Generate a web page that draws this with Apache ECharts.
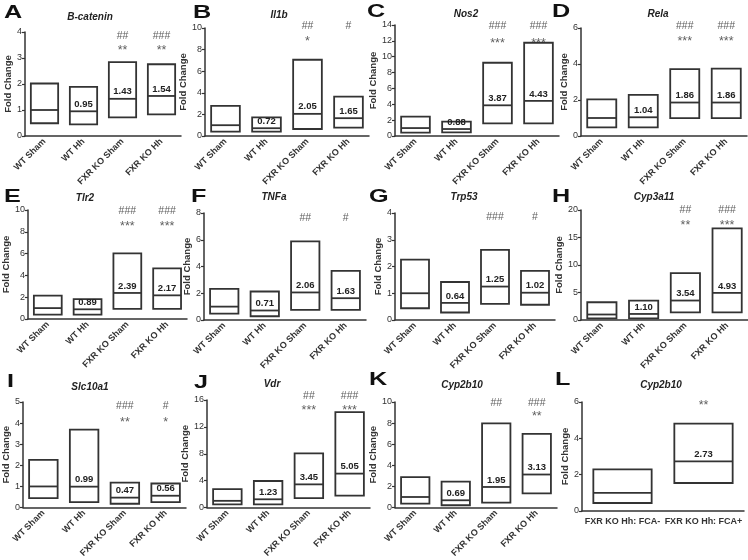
<!DOCTYPE html>
<html><head><meta charset="utf-8">
<script src="https://cdn.jsdelivr.net/npm/echarts@6/dist/echarts.min.js"></script>
<style>html,body{margin:0;padding:0;background:#fff}#c{width:748px;height:560px}</style>
</head><body><div id="c"></div><script>
// ---- data ----
const groups = ['WT Sham', 'WT Hh', 'FXR KO Sham', 'FXR KO Hh'];
const groupsL = ['FXR KO Hh: FCA-', 'FXR KO Hh: FCA+'];
const genes = ['B-catenin', 'Il1b', 'Nos2', 'Rela', 'Tlr2', 'TNFa', 'Trp53', 'Cyp3a11', 'Slc10a1', 'Vdr', 'Cyp2b10', 'Cyp2b10'];
const letters = ['A', 'B', 'C', 'D', 'E', 'F', 'G', 'H', 'I', 'J', 'K', 'L'];
const yMax = [4, 10, 14, 6, 10, 8, 4, 20, 5, 16, 10, 6];
const yStep = [1, 2, 2, 2, 2, 2, 1, 5, 1, 4, 2, 2];

const lowA = [0.49, 0.45, 0.72, 0.83], medA = [1.00, 0.95, 1.43, 1.54], highA = [2.02, 1.89, 2.84, 2.76];
const lowB = [0.40, 0.40, 0.65, 0.77], medB = [1.00, 0.72, 2.05, 1.65], highB = [2.79, 1.73, 7.06, 3.65];
const lowC = [0.42, 0.46, 1.60, 1.60], medC = [1.00, 0.88, 3.87, 4.43], highC = [2.44, 1.81, 9.24, 11.76];
const lowD = [0.48, 0.48, 0.99, 0.99], medD = [1.00, 1.04, 1.86, 1.86], highD = [2.04, 2.29, 3.72, 3.74];
const lowE = [0.40, 0.40, 0.92, 0.92], medE = [1.00, 0.89, 2.39, 2.17], highE = [2.14, 1.83, 6.02, 4.65];
const lowF = [0.48, 0.28, 0.75, 0.75], medF = [1.00, 0.71, 2.06, 1.63], highF = [2.33, 2.13, 5.88, 3.68];
const lowG = [0.44, 0.28, 0.60, 0.57], medG = [1.00, 0.64, 1.25, 1.02], highG = [2.26, 1.42, 2.62, 1.84];
const lowH = [0.30, 0.30, 1.40, 1.40], medH = [1.00, 1.10, 3.54, 4.93], highH = [3.23, 3.54, 8.54, 16.65];
const lowI = [0.45, 0.26, 0.18, 0.26], medI = [1.00, 0.99, 0.47, 0.56], highI = [2.26, 3.69, 1.18, 1.14];
const lowJ = [0.48, 0.48, 1.40, 1.78], medJ = [1.00, 1.23, 3.45, 5.05], highJ = [2.75, 3.95, 8.05, 14.20];
const lowK = [0.37, 0.22, 0.46, 1.35], medK = [1.00, 0.69, 1.95, 3.13], highK = [2.89, 2.46, 7.97, 6.98];
const lowL = [0.44, 1.54], medL = [1.00, 2.73], highL = [2.29, 4.81];

const hashA = ['', '', '##', '###'], starA = ['', '', '**', '**'];
const hashB = ['', '', '##', '#'], starB = ['', '', '*', ''];
const hashC = ['', '', '###', '###'], starC = ['', '', '***', '***'];
const hashD = ['', '', '###', '###'], starD = ['', '', '***', '***'];
const hashE = ['', '', '###', '###'], starE = ['', '', '***', '***'];
const hashF = ['', '', '##', '#'], starF = ['', '', '', ''];
const hashG = ['', '', '###', '#'], starG = ['', '', '', ''];
const hashH = ['', '', '##', '###'], starH = ['', '', '**', '***'];
const hashI = ['', '', '###', '#'], starI = ['', '', '**', '*'];
const hashJ = ['', '', '##', '###'], starJ = ['', '', '***', '***'];
const hashK = ['', '', '##', '###'], starK = ['', '', '', '**'];
const hashL = ['', ''], starL = ['', '**'];

// ---- layout (pixels) ----
const FONT = '"Liberation Sans", Arial, Helvetica, sans-serif';
const layout = [
  { l: 25, r: 181, t: 32, b: 136, letter: [4, 4], title: [90, 17], ann: [3.86, 3.30] },
  { l: 205, r: 369, t: 28, b: 136, letter: [193, 4], title: [279, 15], ann: [10.15, 8.7] },
  { l: 395, r: 559, t: 25, b: 136, letter: [367, 3], title: [466, 14], ann: [13.9, 11.7] },
  { l: 581, r: 747, t: 28, b: 136, letter: [552, 3], title: [658, 14], ann: [6.1, 5.22] },
  { l: 25, r: 187, t: 210, b: 319, letter: [4, 188], title: [85, 198], ann: [9.94, 8.47] },
  { l: 204, r: 366, t: 213, b: 320, letter: [191, 188], title: [274, 197], ann: [7.65, 0] },
  { l: 395, r: 555, t: 213, b: 320, letter: [369, 188], title: [464, 197], ann: [3.85, 0] },
  { l: 581, r: 748, t: 210, b: 320, letter: [552, 188], title: [654, 197], ann: [19.9, 17.1] },
  { l: 22, r: 186, t: 402, b: 511, letter: [7, 373], title: [90, 387], ann: [4.8, 4.05] },
  { l: 207, r: 370, t: 400, b: 511, letter: [194, 374], title: [272, 384], ann: [16.6, 14.45] },
  { l: 395, r: 557, t: 402, b: 511, letter: [369, 371], title: [462, 385], ann: [9.94, 8.6] },
  { l: 582, r: 744, t: 402, b: 511, letter: [555, 371], title: [661, 385], ann: [0, 5.78] }
];

const lows = [lowA, lowB, lowC, lowD, lowE, lowF, lowG, lowH, lowI, lowJ, lowK, lowL];
const meds = [medA, medB, medC, medD, medE, medF, medG, medH, medI, medJ, medK, medL];
const highs = [highA, highB, highC, highD, highE, highF, highG, highH, highI, highJ, highK, highL];
const hashes = [hashA, hashB, hashC, hashD, hashE, hashF, hashG, hashH, hashI, hashJ, hashK, hashL];
const stars = [starA, starB, starC, starD, starE, starF, starG, starH, starI, starJ, starK, starL];

const INK = '#333';
const grid = [], xAxis = [], yAxis = [], series = [], graphic = [];

layout.forEach((L, i) => {
  const cats = i === 11 ? groupsL : groups;
  grid.push({ left: L.l, top: L.t, width: L.r - L.l, height: L.b - L.t, containLabel: false });
  xAxis.push({
    type: 'category', gridIndex: i, data: cats,
    axisLine: { lineStyle: { color: INK, width: 1.5 } },
    axisTick: { show: false },
    axisLabel: {
      interval: 0, rotate: i === 11 ? 0 : 45, fontSize: 9, fontWeight: 'bold',
      color: INK, margin: i === 11 ? 6 : 4, fontFamily: FONT
    }
  });
  yAxis.push({
    type: 'value', gridIndex: i, min: 0, max: yMax[i], interval: yStep[i],
    splitLine: { show: false },
    axisLine: { show: true, lineStyle: { color: INK, width: 1.5 } },
    axisTick: { show: true, length: 3, lineStyle: { color: INK, width: 1.2 } },
    axisLabel: { fontSize: 9, color: INK, margin: 3, fontFamily: FONT },
    name: 'Fold Change', nameLocation: 'middle', nameGap: 12,
    nameTextStyle: { fontSize: 9.5, fontWeight: 'bold', color: INK, fontFamily: FONT }
  });
  const low = lows[i], med = meds[i], high = highs[i];
  const frac = i === 11 ? 0.72 : 0.70;
  series.push({
    type: 'custom', xAxisIndex: i, yAxisIndex: i, silent: true, clip: false,
    data: low.map((v, j) => [j, v, med[j], high[j]]),
    encode: { x: 0, y: [1, 2, 3] },
    renderItem: (params, api) => {
      const j = api.value(0);
      const pLo = api.coord([j, api.value(1)]);
      const pMd = api.coord([j, api.value(2)]);
      const pHi = api.coord([j, api.value(3)]);
      const bw = api.size([1, 0])[0] * frac;
      const x0 = pLo[0] - bw / 2;
      const txt = j === 0 ? '' : med[j].toFixed(2);
      return {
        type: 'group', children: [
          { type: 'rect', shape: { x: x0, y: pHi[1], width: bw, height: pLo[1] - pHi[1] },
            style: { fill: '#fff', stroke: INK, lineWidth: 1.8 } },
          { type: 'line', shape: { x1: x0, y1: pMd[1], x2: x0 + bw, y2: pMd[1] },
            style: { stroke: INK, lineWidth: 1.8 } },
          { type: 'text', x: pMd[0], y: pMd[1] - 2,
            style: { text: txt, textAlign: 'center', textVerticalAlign: 'bottom',
                     font: 'bold 9.5px ' + FONT, fill: '#222' } }
        ]
      };
    }
  });
  const annData = [];
  hashes[i].forEach((h, j) => { if (h) annData.push({ value: [j, L.ann[0]], label: { formatter: h, fontSize: 10.5 } }); });
  stars[i].forEach((s, j) => { if (s) annData.push({ value: [j, L.ann[1]], label: { formatter: s, fontSize: 12.5 } }); });
  series.push({
    type: 'scatter', xAxisIndex: i, yAxisIndex: i, symbolSize: 1, silent: true, clip: false,
    itemStyle: { color: 'rgba(0,0,0,0)' }, data: annData,
    label: { show: true, position: 'inside', fontSize: 10.5, color: '#333', fontFamily: FONT }
  });
  graphic.push({
    type: 'text', x: L.letter[0], y: L.letter[1], scaleX: 1.4,
    style: { text: letters[i], font: 'bold 18px ' + FONT, fill: '#111', textAlign: 'left', textVerticalAlign: 'top' }
  });
  graphic.push({
    type: 'text', x: L.title[0], y: L.title[1],
    style: { text: genes[i], font: 'italic bold 10px ' + FONT, fill: '#222', textAlign: 'center', textVerticalAlign: 'middle' }
  });
});

const chart = echarts.init(document.getElementById('c'));
chart.setOption({
  animation: false, backgroundColor: '#fff',
  grid, xAxis, yAxis, series, graphic
});
</script></body></html>
